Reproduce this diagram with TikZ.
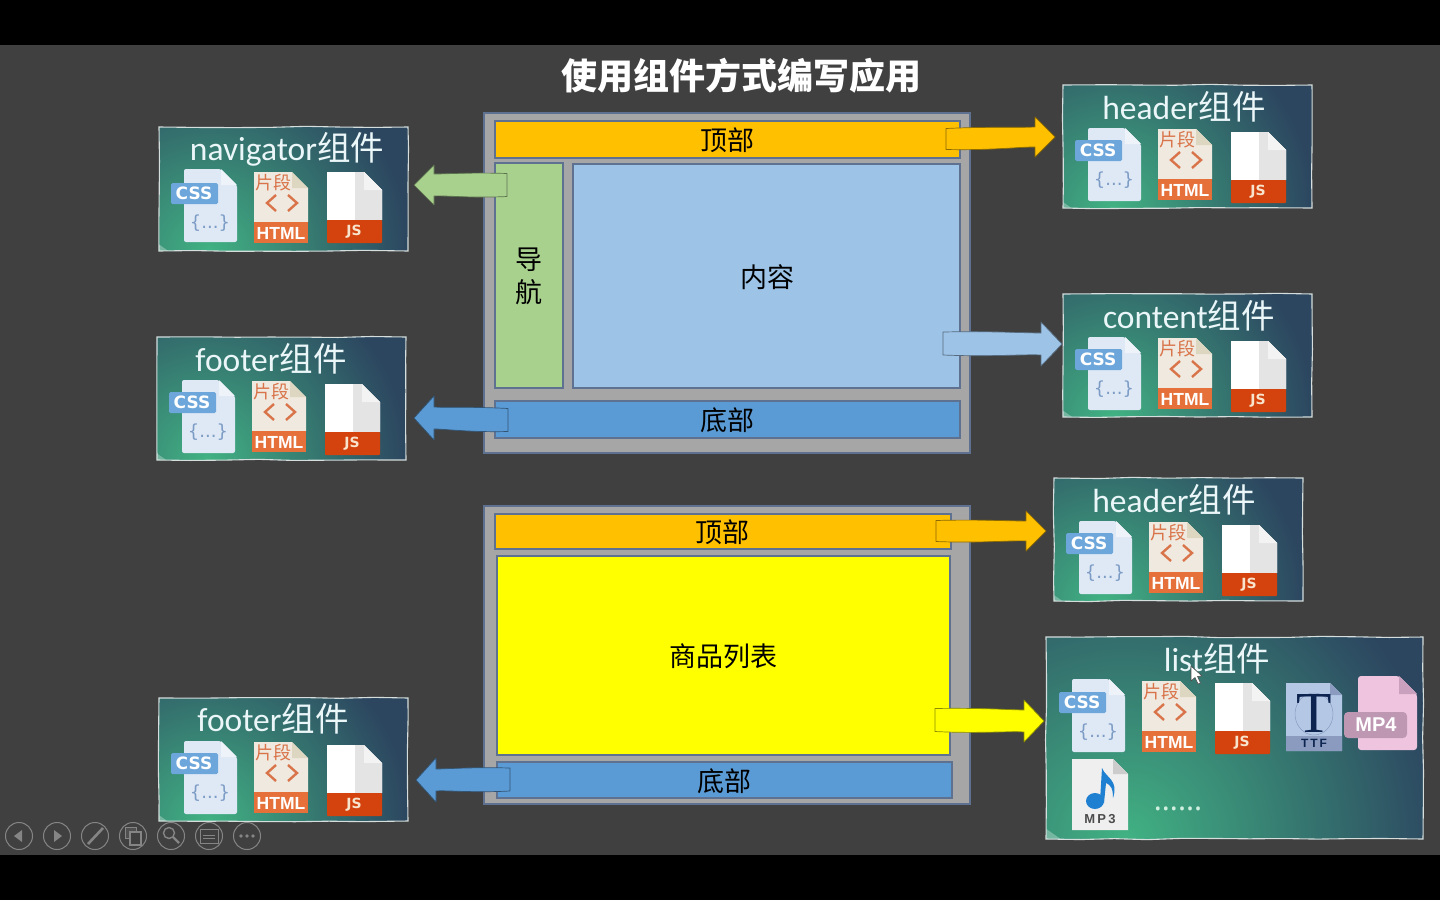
\documentclass[tikz,border=0pt]{standalone}
\usepackage{fontspec}
\setmainfont{Carlito}
\newfontfamily\cjk{Noto Sans CJK SC}
\newfontfamily\hvf{Liberation Sans}
\newfontfamily\djv{DejaVu Sans}
\newfontfamily\srf{Liberation Serif}
\newfontfamily\ntf{Noto Sans}
\usetikzlibrary{fit,calc,decorations.pathmorphing}
\definecolor{bgc}{HTML}{404040}
\definecolor{framec}{HTML}{A6A6A6}
\definecolor{edgec}{HTML}{5E7191}
\definecolor{orangec}{HTML}{FFC000}
\definecolor{greenc}{HTML}{A9D18E}
\definecolor{lightb}{HTML}{9DC3E6}
\definecolor{midb}{HTML}{5B9BD5}
\definecolor{yel}{HTML}{FFFF00}
\definecolor{cardg}{HTML}{41B283}
\definecolor{cardn}{HTML}{2C4660}
\definecolor{cardedge}{HTML}{D5DEDC}
\definecolor{tool}{HTML}{858585}
\definecolor{cssbody}{HTML}{DFE8F5}
\definecolor{cssfold}{HTML}{EEF3FA}
\definecolor{csslabel}{HTML}{6CA6DA}
\definecolor{cssbrace}{HTML}{7C9CC5}
\definecolor{htmlbody}{HTML}{EFE9DF}
\definecolor{htmlfold}{HTML}{DDD6C0}
\definecolor{htmlbar}{HTML}{E5703A}
\definecolor{htmltext}{HTML}{D9744A}
\definecolor{jsfold}{HTML}{F3F3F3}
\definecolor{jsside}{HTML}{E4E4E4}
\definecolor{jsbar}{HTML}{D4420E}
\definecolor{jstext}{HTML}{F8E4CC}
\definecolor{ttfbody}{HTML}{B4C8E6}
\definecolor{ttfband}{HTML}{8A9BBF}
\definecolor{ttfdark}{HTML}{0E2450}
\definecolor{mpfbody}{HTML}{EFC4DF}
\definecolor{mpffold}{HTML}{C9A0BE}
\definecolor{mpflabel}{HTML}{BE97B3}
\definecolor{mptbody}{HTML}{EFEFEF}
\definecolor{mptfold}{HTML}{CCCCCC}
\definecolor{noteblue}{HTML}{1F7FD0}
\definecolor{dotc}{HTML}{CFF0E0}
\definecolor{titlec}{HTML}{EAF6F8}
\newcommand{\fs}[1]{\fontsize{#1}{#1}\selectfont}
\tikzset{
  panel/.style={inner sep=0pt,outer sep=0pt,draw=edgec,line width=1.2pt},
  panellabel/.style={inner sep=0pt,text=black,font=\cjk\fs{27}},
  cardbox/.style={inner sep=0pt,outer sep=0pt,draw=cardedge,line width=1.1pt,fill=cardn,
    decorate,decoration={random steps,segment length=34pt,amplitude=0.7pt},
    path picture={
      \shade[inner color=cardg,outer color=cardn]
        ($(path picture bounding box.south west)+(#1*0.25pt,0pt)$) circle (#1*1pt);
      \fill[white,opacity=.3] (path picture bounding box.south west) -- ++(#1*0.05pt,0pt) -- ++(-#1*0.05pt,#1*0.035pt) -- cycle;
    }},
  cardtitle/.style={inner sep=0pt,text=titlec,font=\fs{33.5}},
  iconlabel/.style={inner sep=0pt,font=\hvf\bfseries\fs{17.5},text=white},
  toolbtn/.style={circle,draw=tool,line width=1pt,minimum size=27pt,inner sep=0pt},
  arrowline/.style={line width=.7pt,line join=round}
}
% block arrow: head offset #1, from tail coord #2 to tip coord #3, half widths #4 and #5
\newcommand{\blockarrow}[6]{%
  \draw[arrowline,fill=#6,draw=#6!55!black]
    ($(#2)+(0pt,-#4)$)
    .. controls ($(#2)!.4!(#3)+(0pt,-#4-2pt)$) and ($(#2)!.7!(#3)+(0pt,-#4+1pt)$) .. ($(#3)+(#1,-#4)$)
    -- ($(#3)+(#1,-#5)$) -- (#3) -- ($(#3)+(#1,#5)$) -- ($(#3)+(#1,#4)$)
    .. controls ($(#2)!.7!(#3)+(0pt,#4)$) and ($(#2)!.4!(#3)+(0pt,#4+2pt)$) .. ($(#2)+(0pt,#4+1pt)$) -- cycle;}
% css / html / js icons, origin at the card's upper left corner; #2 = css and html shift, #3 = js shift
\newcommand{\cardicons}[3]{%
  \fill[rounded corners=2pt,fill=cssbody] (25,42) -- (62,42) -- (78,58) -- (78,115) -- (25,115) -- cycle;
  \fill[fill=cssfold] (62,42) -- (78,58) -- (62,58) -- cycle;
  \begin{scope}[shift={(0,#2)}]
  \fill[rounded corners=1.5pt,fill=csslabel] (12,56) rectangle (59,77);
  \node[inner sep=0pt,text=white,font=\djv\bfseries\fs{17}] (#1css) at (35,66.5) {CSS};
  \node[inner sep=0pt,text=cssbrace,font=\djv\fs{18}] (#1brace) at (51,96) {\{...\}};
  \fill[fill=htmlbody] (95,45) -- (133,45) -- (149,61) -- (149,95) -- (95,95) -- cycle;
  \fill[fill=htmlfold] (133,45) -- (149,61) -- (133,61) -- cycle;
  \fill[fill=htmlbar] (95,95) rectangle (149,116);
  \node[iconlabel] (#1html) at (122,106) {HTML};
  \node[inner sep=0pt,text=htmltext,font=\cjk\fs{18}] (#1frag) at (114,56) {片段};
  \draw[line width=2.4pt,draw=htmltext] (117,68) -- (108,76) -- (117,84) (129,68) -- (138,76) -- (129,84);
  \end{scope}
  \begin{scope}[shift={(0,#3)}]
  \fill[fill=white] (168,45) -- (205,45) -- (223,63) -- (223,93) -- (168,93) -- cycle;
  \fill[fill=jsside] (196,45) -- (205,45) -- (223,63) -- (223,93) -- (196,93) -- cycle;
  \fill[fill=jsfold] (205,45) -- (223,63) -- (205,63) -- cycle;
  \fill[rounded corners=.8pt,fill=jsbar] (168,93) rectangle (223,116);
  \node[inner sep=0pt,text=jstext,font=\djv\bfseries\fs{14}] (#1js) at (195,105) {JS};
  \end{scope}
}
\newcommand{\titletext}[1]{#1{\cjk 组件}}
\begin{document}
\begin{tikzpicture}[x=1pt,y=-1pt]
\useasboundingbox (0,0) rectangle (1440,900);
\fill[black] (0,0) rectangle (1440,900);
\fill[bgc] (0,45) rectangle (1440,855);

\node[inner sep=0pt,text=white,font=\cjk\bfseries\fs{36}] (maintitle) at (741,76) {使用组件方式编写应用};

% upper page
\node[panel,fill=framec,fit={(484,113)(970,453)}] (frameA) {};
\node[panel,fill=orangec,fit={(495,121)(960,158)}] (topA) {};
\node[panel,fill=greenc,fit={(495,163)(563,388)}] (navA) {};
\node[panel,fill=lightb,fit={(573,164)(960,388)}] (contentA) {};
\node[panel,fill=midb,fit={(495,401)(960,438)}] (footA) {};
\node[panellabel] (ltopA) at (727,140) {顶部};
\node[panellabel] (lnavA) at (529,260) {导};
\node[panellabel] (lnavB) at (529,292) {航};
\node[panellabel] (lcontA) at (767,277) {内容};
\node[panellabel] (lfootA) at (727,420) {底部};
% lower page
\node[panel,fill=framec,fit={(484,506)(970,804)}] (frameB) {};
\node[panel,fill=orangec,fit={(495,514)(951,549)}] (topB) {};
\node[panel,fill=yel,fit={(497,556)(950,755)}] (listB) {};
\node[panel,fill=midb,fit={(497,762)(952,798)}] (footB) {};
\node[panellabel] (ltopB) at (722,532) {顶部};
\node[panellabel] (llistB) at (723,656) {商品列表};
\node[panellabel] (lfootB) at (724,781) {底部};

% cards
\node[cardbox=200,fit={(159,127)(408,251)}] (cardnav) {};
\node[cardbox=200,fit={(157,337)(406,460)}] (cardfootA) {};
\node[cardbox=200,fit={(1063,85)(1312,208)}] (cardhead) {};
\node[cardbox=200,fit={(1063,294)(1312,417)}] (cardcont) {};
\node[cardbox=200,fit={(1054,478)(1303,601)}] (cardheadB) {};
\node[cardbox=200,fit={(159,698)(408,821)}] (cardfootB) {};
\node[cardbox=320,fit={(1046,637)(1423,839)}] (cardlist) {};

\node[cardtitle] (tnav) at (287,149) {\titletext{navigator}};
\node[cardtitle] (tfootA) at (271,359) {\titletext{footer}};
\node[cardtitle] (thead) at (1184,107) {\titletext{header}};
\node[cardtitle] (tcont) at (1189,316) {\titletext{content}};
\node[cardtitle] (theadB) at (1174,500) {\titletext{header}};
\node[cardtitle] (tfootB) at (273,719) {\titletext{footer}};
\node[cardtitle] (tlist) at (1217,659) {\titletext{list}};

\begin{scope}[shift={(159,127)}]\cardicons{a}{0}{0}\end{scope}
\begin{scope}[shift={(157,338)}]\cardicons{b}{-2}{1}\end{scope}
\begin{scope}[shift={(1063,86)}]\cardicons{c}{-2}{1}\end{scope}
\begin{scope}[shift={(1063,295)}]\cardicons{d}{-2}{1}\end{scope}
\begin{scope}[shift={(1054,479)}]\cardicons{e}{-2}{1}\end{scope}
\begin{scope}[shift={(159,699)}]\cardicons{f}{-2}{1}\end{scope}
\begin{scope}[shift={(1047,637)}]\cardicons{g}{-1}{1}\end{scope}

% TTF
\fill[fill=ttfbody] (1286,683) -- (1330,683) -- (1342,695) -- (1342,751) -- (1286,751) -- cycle;
\fill[fill=ttfband] (1330,683) -- (1342,695) -- (1330,695) -- cycle;
\fill[fill=ttfband] (1286,736) rectangle (1342,751);
\draw[draw=ttfband,line width=.5pt] (1314,714) ellipse (19pt and 21pt);
\node[inner sep=0pt,text=ttfdark,text height=38pt,text depth=0pt,font=\srf\fs{58}] (ttfT) at (1314,713.5) {T};
\node[inner sep=0pt,text=ttfdark,font=\hvf\bfseries\fs{12}] (ttf) at (1314,743.5) {T\,T\,F};
% MP4
\fill[rounded corners=3pt,fill=mpfbody] (1358,676) -- (1399,676) -- (1417,694) -- (1417,750) -- (1358,750) -- cycle;
\fill[fill=mpffold] (1399,676) -- (1417,694) -- (1399,694) -- cycle;
\fill[rounded corners=4pt,fill=mpflabel] (1344,712) rectangle (1407,738);
\node[inner sep=0pt,text=white,font=\hvf\bfseries\fs{20}] (mpfour) at (1376,724.5) {MP4};
% MP3
\fill[fill=mptbody] (1072,759) -- (1113,759) -- (1128,774) -- (1128,830) -- (1072,830) -- cycle;
\fill[fill=mptfold] (1113,759) -- (1128,774) -- (1113,774) -- cycle;
\fill[fill=noteblue] (1095,801) ellipse (9pt and 8pt);
\fill[fill=noteblue] (1100,801) -- (1102,768) .. controls (1106,778) and (1119,780) .. (1113,798) .. controls (1113,787) and (1110,785) .. (1106,783) -- (1104,803) -- cycle;
\node[inner sep=0pt,text=black!70,font=\hvf\bfseries\fs{13}] (mpthree) at (1100,819) {M\,P\,3};
\node[inner sep=0pt,text=dotc,font=\ntf\fs{30}] (dots) at (1178,809) {......};

% arrows
\coordinate (a1s) at ($(topA.east)+(-14pt,0pt)$);  \coordinate (a1e) at (1055,137);
\coordinate (a2s) at ($(contentA.east)+(-17pt,-68pt)$); \coordinate (a2e) at (1062,344);
\coordinate (a3s) at ($(topB.east)+(-15pt,0pt)$); \coordinate (a3e) at (1046,531);
\coordinate (a4s) at ($(listB.east)+(-15pt,-65pt)$); \coordinate (a4e) at (1044,721);
\coordinate (a5s) at ($(navA.west)+(12pt,90pt)$); \coordinate (a5e) at (414,185);
\coordinate (a6s) at ($(footA.west)+(13pt,-1pt)$); \coordinate (a6e) at (414,418);
\coordinate (a7s) at ($(footB.west)+(13pt,0pt)$); \coordinate (a7e) at (416,780);
\blockarrow{-20pt}{a1s}{a1e}{10pt}{20pt}{orangec}
\blockarrow{-21pt}{a2s}{a2e}{11pt}{22pt}{lightb}
\blockarrow{-20pt}{a3s}{a3e}{10pt}{20pt}{orangec}
\blockarrow{-20pt}{a4s}{a4e}{11pt}{21pt}{yel}
\blockarrow{20pt}{a5s}{a5e}{11pt}{20pt}{greenc}
\blockarrow{20pt}{a6s}{a6e}{11pt}{22pt}{midb}
\blockarrow{20pt}{a7s}{a7e}{11pt}{22pt}{midb}

% mouse pointer
\draw[fill=white,draw=black!70,line width=.6pt,line join=round] (1191,666) -- (1191,681) -- (1195,677.5) -- (1198,684) -- (1200.5,683) -- (1197.5,676.5) -- (1202,676) -- cycle;

% slide show toolbar
\node[toolbtn] (bt1) at (19,836) {};
\node[toolbtn] (bt2) at (57,836) {};
\node[toolbtn] (bt3) at (95,836) {};
\node[toolbtn] (bt4) at (133,836) {};
\node[toolbtn] (bt5) at (171,836) {};
\node[toolbtn] (bt6) at (209,836) {};
\node[toolbtn] (bt7) at (247,836) {};
\fill[tool] (22,830) -- (22,842) -- (14,836) -- cycle;
\fill[tool] (54,830) -- (54,842) -- (62,836) -- cycle;
\draw[tool,line width=2.6pt] (88,844) -- (103,828);
\draw[tool,fill=tool!60!black,line width=1pt] (125,827) rectangle (136,838);
\draw[tool,fill=bgc,line width=1.2pt] (130,832) rectangle (141,845);
\draw[tool,line width=1.4pt] (169,833) circle (5.5pt);
\draw[tool,line width=2.2pt] (173,837) -- (179,843);
\draw[tool,line width=1pt] (200,829) rectangle (218,843);
\draw[tool,line width=.8pt] (203,835) -- (215,835) (203,838) -- (215,838);
\fill[tool] (241,836) circle (1.8pt) (247,836) circle (1.8pt) (253,836) circle (1.8pt);
\end{tikzpicture}
\end{document}
